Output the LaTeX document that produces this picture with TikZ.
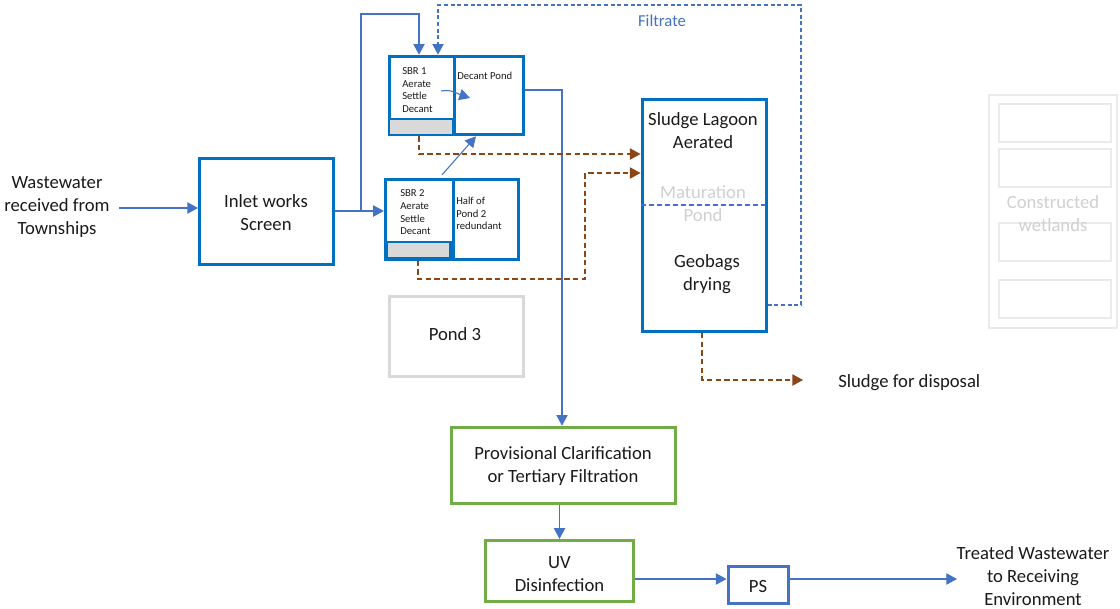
\documentclass[tikz,border=0pt]{standalone}
\usepackage{fontspec}
\setmainfont{Carlito}
\usetikzlibrary{arrows.meta,calc}
\definecolor{boxblue}{HTML}{0070C0}
\definecolor{flowblue}{HTML}{4472C4}
\definecolor{boxgreen}{HTML}{70AD47}
\definecolor{sludgebrown}{HTML}{8C4515}
\definecolor{bargray}{HTML}{D9D9D9}
\definecolor{palegray}{HTML}{EBEBEB}
\definecolor{fadetext}{HTML}{D0D0D0}
\definecolor{inktext}{HTML}{1A1A1A}
\tikzset{
  bluebox/.style={draw=boxblue, line width=2.25pt, inner sep=0pt},
  greenbox/.style={draw=boxgreen, line width=2.25pt, inner sep=0pt},
  graybox/.style={draw=bargray, line width=2.25pt, inner sep=0pt},
  palebox/.style={draw=palegray, line width=1.6pt, inner sep=0pt},
  tip/.style={-{Triangle[length=8pt,width=8.5pt]}},
  flow/.style={draw=flowblue, line width=0.8pt, tip},
  sludgeflow/.style={draw=sludgebrown, line width=1pt, dash pattern=on 4pt off 2.5pt, tip},
  filtrateflow/.style={draw=flowblue, line width=0.9pt, dash pattern=on 3pt off 2pt, tip},
  bigtxt/.style={font=\fontsize{14}{17.25}\selectfont, text=inktext, align=center, inner sep=0pt},
  smalltxt/.style={font=\fontsize{8}{9.5}\selectfont, text=inktext, align=left, inner sep=0pt},
}
\begin{document}
\begin{tikzpicture}[x=0.75pt,y=-0.75pt]
\useasboundingbox (0,0) rectangle (1120,608);

% boxes
\node[bluebox, minimum width=100.5pt, minimum height=80pt] (inlet) at (266.5,211.5) {};
\node[bluebox, minimum width=101pt, minimum height=59pt] (sbr1) at (456.5,95.5) {};
\node[bluebox, minimum width=100pt, minimum height=60pt] (sbr2) at (452,219) {};
\node[graybox, minimum width=101pt, minimum height=60pt] (pond3) at (456.5,336) {};
\node[bluebox, minimum width=93pt, minimum height=174pt] (sludge) at (704,215.5) {};
\node[greenbox, minimum width=168pt, minimum height=57.5pt] (prov) at (563,465.5) {};
\node[greenbox, minimum width=111pt, minimum height=46pt] (uv) at (559.5,571) {};
\node[draw=flowblue, line width=2.25pt, inner sep=0pt, minimum width=45pt, minimum height=28pt] (ps) at (758,585) {};

% SBR internal dividers and bars
\draw[draw=boxblue, line width=2.25pt] (454,55) -- (454,136);
\node[draw=boxblue, fill=bargray, line width=1.6pt, inner sep=0pt, minimum width=48pt, minimum height=12pt] (bar1) at (421,127) {};
\draw[draw=boxblue, line width=2.25pt] (453,178) -- (453,260);
\node[draw=boxblue, fill=bargray, line width=1.6pt, inner sep=0pt, minimum width=48pt, minimum height=12pt] (bar2) at (418.5,250) {};

% sludge lagoon divider
\draw[draw=flowblue, line width=1.5pt, dash pattern=on 4pt off 2pt] (sludge.west |- 0,205) -- (sludge.east |- 0,205);

% constructed wetlands
\node[palebox, minimum width=95.5pt, minimum height=174.5pt] (cw) at (1053,211.5) {};
\node[palebox, minimum width=84.5pt, minimum height=28pt] (cw1) at (1055,123) {};
\node[palebox, minimum width=84.5pt, minimum height=28pt] (cw2) at (1055,168) {};
\node[palebox, minimum width=84.5pt, minimum height=28pt] (cw3) at (1055,242) {};
\node[palebox, minimum width=84.5pt, minimum height=28pt] (cw4) at (1055,299) {};

% texts
\node[bigtxt] (ww) at (57,207) {Wastewater\\received from\\Townships};
\node[bigtxt] (inlettxt) at (266,213) {Inlet works\\Screen};
\node[smalltxt, anchor=west] (sbr1txt) at (402,90) {SBR 1\\Aerate\\Settle\\Decant};
\node[smalltxt, anchor=west] (decant) at (457,76) {Decant Pond};
\node[smalltxt, anchor=west] (sbr2txt) at (400,212.5) {SBR 2\\Aerate\\Settle\\Decant};
\node[smalltxt, anchor=west] (half) at (456,213.5) {Half of\\Pond 2\\redundant};
\node[font=\fontsize{12.5}{14}\selectfont, text=flowblue, inner sep=0pt] (filtrate) at (662,21) {Filtrate};
\node[bigtxt] (lagoontxt) at (703,130.5) {Sludge Lagoon\\Aerated};
\node[bigtxt, text=fadetext] (matur) at (703,203.5) {Maturation\\Pond};
\node[bigtxt] (geotxt) at (707,274) {Geobags\\drying};
\node[bigtxt, text=fadetext] (cwtxt) at (1053,213.5) {Constructed\\wetlands};
\node[bigtxt] (pond3txt) at (455,334) {Pond 3};
\node[bigtxt] (provtxt) at (563,466.5) {Provisional Clarification\\or Tertiary Filtration};
\node[bigtxt] (uvtxt) at (559.5,574) {UV\\Disinfection};
\node[bigtxt] (pstxt) at (758,586) {PS};
\node[bigtxt, anchor=west] (disp) at (838,383) {Sludge for disposal};
\node[bigtxt] (treated) at (1033,576) {Treated Wastewater\\to Receiving\\Environment};

% coordinates
\coordinate (w1) at (119,208);
\coordinate (j1) at (361,211);
\coordinate (t1) at (419,14);
\coordinate (d1) at (562,90);
\coordinate (f1) at (801,305);
\coordinate (f2) at (438,5);
\coordinate (b1) at (419,154);
\coordinate (b2) at (418,279);
\coordinate (b3) at (585,173);
\coordinate (s1) at (702,380);
\coordinate (s2) at (803,380);
\coordinate (u1) at (0,579);
\coordinate (u2) at (957,579);

% flows
\draw[flow] (w1) -- (inlet.west |- w1);
\draw[flow] (inlet.east |- j1) -- (sbr2.west |- j1);
\draw[flow] (j1) |- (t1) -- (t1 |- sbr1.north);
\draw[flow] ([xshift=-7.5pt,yshift=2pt]sbr2.north) -- ([xshift=14.6pt]sbr1.south);
\draw[flow] (441,91) .. controls (452,89) and (458,94) .. (470,98);
\draw[flow] (sbr1.east |- d1) -- (d1) -- (d1 |- prov.north);
\draw[flow] (prov.south -| uv.north) -- (uv.north);
\draw[flow] (uv.east |- u1) -- (ps.west |- u1);
\draw[flow] (ps.east |- u1) -- (u2);

% sludge flows
\draw[sludgeflow] (b1 |- sbr1.south) -- (b1) -- (sludge.west |- b1);
\draw[sludgeflow] (b2 |- sbr2.south) -- (b2) -| (b3) -- (sludge.west |- b3);
\draw[sludgeflow] (s1 |- sludge.south) -- (s1) -- (s2);

% filtrate
\draw[filtrateflow] (sludge.east |- f1) -- (f1) |- (f2) -- (f2 |- sbr1.north);
\end{tikzpicture}
\end{document}
